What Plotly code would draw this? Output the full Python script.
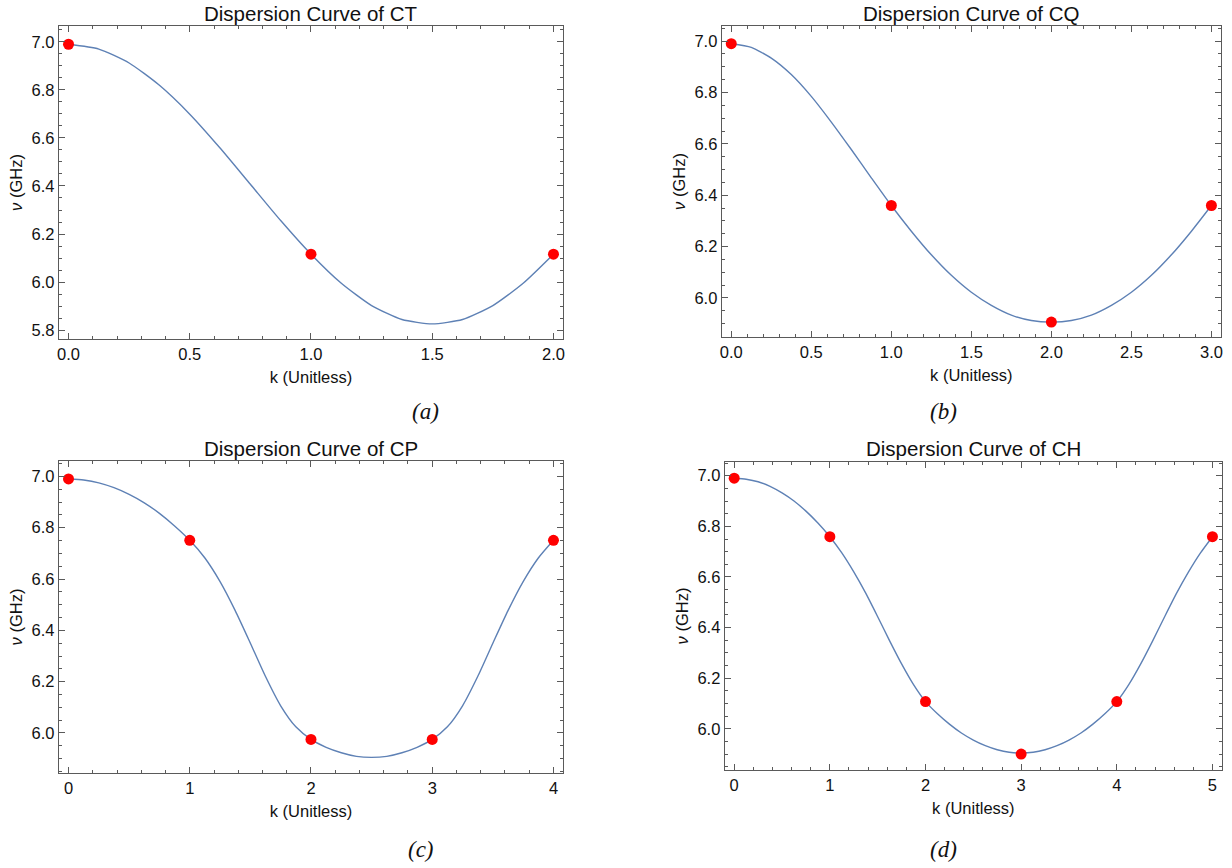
import plotly.graph_objects as go

# ---------------- data ----------------
titles = ["Dispersion Curve of CT", "Dispersion Curve of CQ",
          "Dispersion Curve of CP", "Dispersion Curve of CH"]
panel_labels = ["(a)", "(b)", "(c)", "(d)"]

# discrete modes (red dots)
ct_k = [0, 1, 2]
ct_v = [6.99, 6.116, 6.116]
cq_k = [0, 1, 2, 3]
cq_v = [6.99, 6.36, 5.906, 6.36]
cp_k = [0, 1, 2, 3, 4]
cp_v = [6.99, 6.751, 5.975, 5.975, 6.751]
ch_k = [0, 1, 2, 3, 4, 5]
ch_v = [6.99, 6.759, 6.108, 5.901, 6.108, 6.759]

# continuous curves (sampled by eye from the drawn line, step 0.125 in k)
ct_curve_k = [0, 0.125, 0.25, 0.375, 0.5, 0.625, 0.75, 0.875, 1.0,
              1.125, 1.25, 1.375, 1.5, 1.625, 1.75, 1.875, 2.0]
ct_curve_v = [6.990, 6.970, 6.912, 6.819, 6.699, 6.558, 6.407, 6.256, 6.116,
              5.995, 5.902, 5.844, 5.826, 5.844, 5.902, 5.995, 6.116]

cq_curve_k = [0, 0.125, 0.25, 0.375, 0.5, 0.625, 0.75, 0.875, 1.0,
              1.125, 1.25, 1.375, 1.5, 1.625, 1.75, 1.875, 2.0,
              2.125, 2.25, 2.375, 2.5, 2.625, 2.75, 2.875, 3.0]
cq_curve_v = [6.990, 6.976, 6.934, 6.870, 6.785, 6.685, 6.578, 6.468, 6.360,
              6.260, 6.168, 6.088, 6.022, 5.971, 5.933, 5.912, 5.906,
              5.912, 5.933, 5.971, 6.022, 6.088, 6.168, 6.260, 6.360]

cp_curve_k = [0, 0.125, 0.25, 0.375, 0.5, 0.625, 0.75, 0.875, 1.0,
              1.125, 1.25, 1.375, 1.5, 1.625, 1.75, 1.875, 2.0,
              2.125, 2.25, 2.375, 2.5, 2.625, 2.75, 2.875, 3.0,
              3.125, 3.25, 3.375, 3.5, 3.625, 3.75, 3.875, 4.0]
cp_curve_v = [6.990, 6.986, 6.975, 6.956, 6.930, 6.897, 6.856, 6.807, 6.751,
              6.682, 6.590, 6.477, 6.350, 6.220, 6.106, 6.024, 5.975,
              5.944, 5.923, 5.909, 5.905, 5.909, 5.923, 5.944, 5.975,
              6.024, 6.106, 6.220, 6.350, 6.477, 6.590, 6.682, 6.751]

ch_curve_k = [0, 0.125, 0.25, 0.375, 0.5, 0.625, 0.75, 0.875, 1.0,
              1.125, 1.25, 1.375, 1.5, 1.625, 1.75, 1.875, 2.0,
              2.125, 2.25, 2.375, 2.5, 2.625, 2.75, 2.875, 3.0,
              3.125, 3.25, 3.375, 3.5, 3.625, 3.75, 3.875, 4.0,
              4.125, 4.25, 4.375, 4.5, 4.625, 4.75, 4.875, 5.0]
ch_curve_v = [6.990, 6.986, 6.976, 6.958, 6.932, 6.900, 6.860, 6.813, 6.759,
              6.695, 6.620, 6.536, 6.443, 6.348, 6.257, 6.175, 6.108,
              6.060, 6.019, 5.984, 5.956, 5.934, 5.918, 5.908, 5.905,
              5.908, 5.918, 5.934, 5.956, 5.984, 6.019, 6.060, 6.108,
              6.175, 6.257, 6.348, 6.443, 6.536, 6.620, 6.695, 6.759]

# ---------------- layout constants ----------------
W, H = 1232, 868
frames = [  # x0, x1, y0, y1 in pixels (top-left origin)
    (57, 563, 26, 339),
    (722, 1223, 26, 337),
    (57, 563, 461, 773),
    (725, 1224, 462, 770),
]
xranges = [(-0.04, 2.04), (-0.06, 3.06), (-0.08, 4.08), (-0.1, 5.1)]
yranges = [(5.763, 7.066), (5.848, 7.059), (5.844, 7.06), (5.838, 7.054)]
xdtick = [0.5, 0.5, 1, 1]
xminor = [0.1, 0.1, 0.2, 0.2]
xfmt = [".1f", ".1f", "d", "d"]

curves = [(ct_curve_k, ct_curve_v), (cq_curve_k, cq_curve_v),
          (cp_curve_k, cp_curve_v), (ch_curve_k, ch_curve_v)]
dots = [(ct_k, ct_v), (cq_k, cq_v), (cp_k, cp_v), (ch_k, ch_v)]

FONT = "Liberation Sans, Arial, sans-serif"
BLUE = "#5E81B5"
FRAME = "#5a5a5a"
TXT = "#111111"

fig = go.Figure()
annotations = []
for i in range(4):
    sfx = "" if i == 0 else str(i + 1)
    xa, ya = "x" + sfx, "y" + sfx
    ck, cv = curves[i]
    fig.add_trace(go.Scatter(x=ck, y=cv, mode="lines", xaxis=xa, yaxis=ya,
                             line=dict(color=BLUE, width=1.4, shape="spline", smoothing=0.6),
                             hoverinfo="skip", showlegend=False))
    dk, dv = dots[i]
    fig.add_trace(go.Scatter(x=dk, y=dv, mode="markers", xaxis=xa, yaxis=ya,
                             marker=dict(color="#FF0000", size=11, line=dict(width=0)),
                             showlegend=False))
    x0, x1, y0, y1 = frames[i]
    common = dict(showline=True, linecolor=FRAME, linewidth=1, mirror="allticks",
                  ticks="inside", ticklen=6, tickcolor=FRAME, tickwidth=1,
                  showgrid=False, zeroline=False,
                  tickfont=dict(family=FONT, size=16.5, color=TXT))
    fig.layout["xaxis" + sfx] = dict(
        domain=[x0 / W, x1 / W], range=list(xranges[i]), anchor=ya,
        dtick=xdtick[i], tick0=0, tickformat=xfmt[i],
        minor=dict(ticks="inside", ticklen=3, dtick=xminor[i], tickcolor=FRAME, showgrid=False),
        title=dict(text="k (Unitless)", font=dict(family=FONT, size=16.5, color=TXT), standoff=9),
        **common)
    fig.layout["yaxis" + sfx] = dict(
        domain=[1 - y1 / H, 1 - y0 / H], range=list(yranges[i]), anchor=xa,
        dtick=0.2, tick0=0, tickformat=".1f",
        minor=dict(ticks="inside", ticklen=3, dtick=0.05, tickcolor=FRAME, showgrid=False),
        title=dict(text="<i>ν</i> (GHz)", font=dict(family=FONT, size=16.5, color=TXT), standoff=4),
        **common)
    title_y = 13 if i < 2 else 449
    annotations.append(dict(text=titles[i], x=(x0 + x1) / 2 / W, y=1 - title_y / H,
                            xref="paper", yref="paper", xanchor="center", yanchor="middle",
                            showarrow=False, font=dict(family=FONT, size=20.5, color=TXT)))
    label_y = 411 if i < 2 else 849
    label_x = [425, 945, 420, 945][i]
    annotations.append(dict(text="<i>" + panel_labels[i] + "</i>", x=label_x / W, y=1 - label_y / H,
                            xref="paper", yref="paper", xanchor="center", yanchor="middle",
                            showarrow=False,
                            font=dict(family="Liberation Serif, Times New Roman, serif", size=23, color=TXT)))

fig.update_layout(width=W, height=H, margin=dict(l=0, r=0, t=0, b=0),
                  paper_bgcolor="white", plot_bgcolor="white",
                  annotations=annotations)
fig.write_html("out.html", config={"displayModeBar": False},
               post_script="document.body.style.margin='0px';document.body.style.overflow='hidden';")
